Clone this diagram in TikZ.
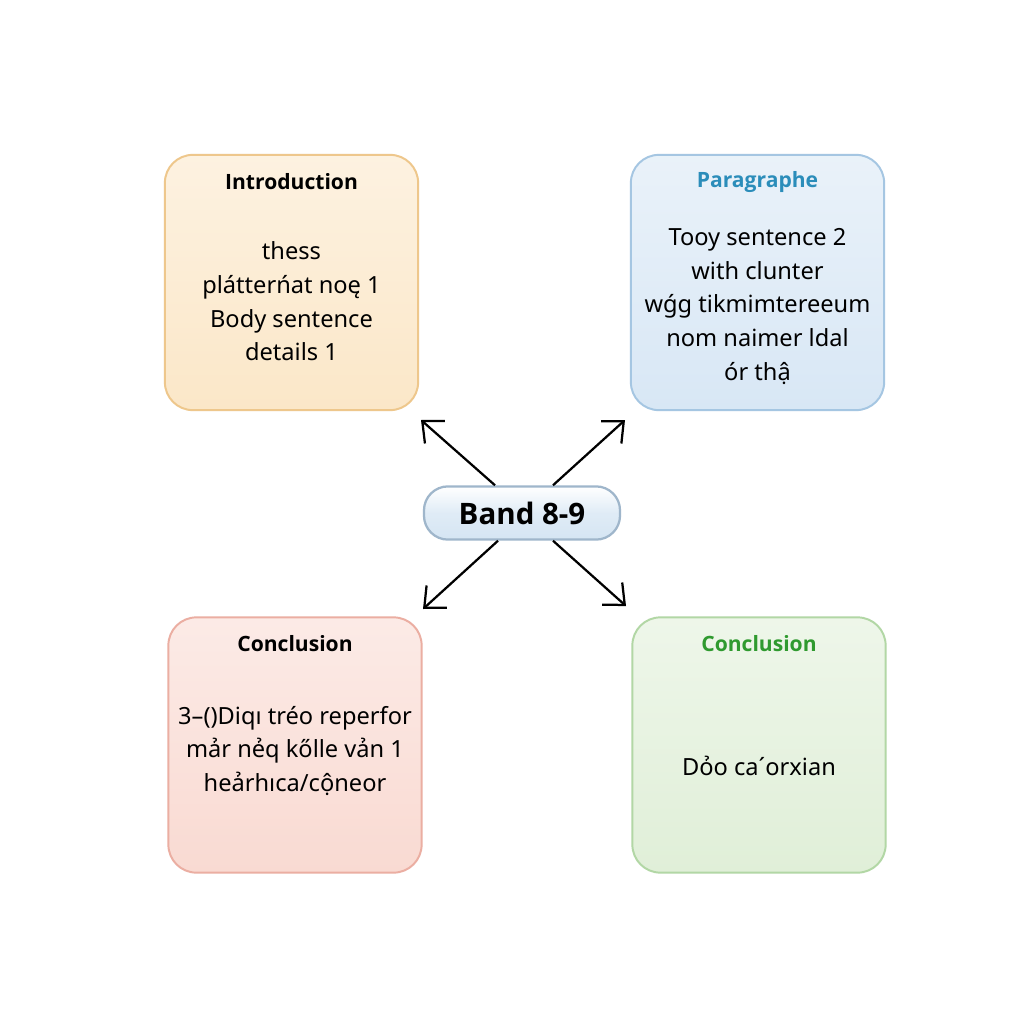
\documentclass[tikz,border=0pt]{standalone}
\usepackage{fontspec}
\setmainfont{Noto Sans}
\newfontfamily\titlefont{Open Sans}
\usetikzlibrary{arrows.meta}
\usetikzlibrary{calc}

\definecolor{introfill}{HTML}{FBE7C8}
\definecolor{introline}{HTML}{EEC78C}
\definecolor{parafill}{HTML}{D8E7F5}
\definecolor{paraline}{HTML}{A5C6E2}
\definecolor{paratext}{HTML}{2B8DBA}
\definecolor{conafill}{HTML}{F9DAD2}
\definecolor{conaline}{HTML}{EBAEA2}
\definecolor{conbfill}{HTML}{E0EFD8}
\definecolor{conbline}{HTML}{B2D7A5}
\definecolor{conbtext}{HTML}{2F9A2F}
\definecolor{bandfill}{HTML}{D5E5F3}
\definecolor{bandline}{HTML}{9FB6CB}

\tikzset{
  partbox/.style={rectangle, rounded corners=7mm, line width=1.4pt,
    minimum width=6.33cm, minimum height=6.38cm},
  parttitle/.style={font=\titlefont\bfseries\fontsize{15}{18}\selectfont, anchor=center},
  parttext/.style={align=center, font=\fontsize{16.8}{24}\selectfont},
  bandbox/.style={rectangle, rounded corners=6mm, draw=bandline, line width=1.6pt,
    top color=white, bottom color=bandfill, middle color=bandfill!75,
    minimum width=4.9cm, minimum height=1.33cm,
    font=\titlefont\bfseries\fontsize{21}{24}\selectfont},
  link/.style={-{Straight Barb[length=4.2mm, width=7.5mm, line width=1.6pt]},
    line width=1.6pt}
}

\begin{document}
\begin{tikzpicture}[x=0.025cm, y=-0.025cm]
  \useasboundingbox[fill=white] (0,0) rectangle (1024,1024);

  % four parts of the essay
  \node[partbox, draw=introline, top color=introfill!55, bottom color=introfill] (intro) at (291.5,282.5) {};
  \node[partbox, draw=paraline, top color=parafill!55, bottom color=parafill] (para) at (757.5,282.5) {};
  \node[partbox, draw=conaline, top color=conafill!55, bottom color=conafill] (cona) at (295,745) {};
  \node[partbox, draw=conbline, top color=conbfill!55, bottom color=conbfill] (conb) at (759,745) {};

  \node[parttitle] (introtitle) at ($(intro.north)+(0,28)$) {Introduction};
  \node[parttitle, text=paratext] (paratitle) at ($(para.north)+(0,28)$) {Paragraphe};
  \node[parttitle] (conatitle) at ($(cona.north)+(0,27)$) {Conclusion};
  \node[parttitle, text=conbtext] (conbtitle) at ($(conb.north)+(0,27)$) {Conclusion};

  \node[parttext] (introtext) at ($(intro.center)+(0,19)$)
    {thess\\plátterńat noę 1\\Body sentence\\details 1};
  \node[parttext] (paratext) at ($(para.center)+(0,24)$)
    {Tooy sentence 2\\with clunter\\wǵg tikmimtereeum\\nom naimer ldal\\ór thậ};
  \node[parttext] (conatext) at ($(cona.center)+(0,6)$)
    {3–()Diqı tréo reperfor\\mảr nẻq kőlle vản 1\\heảrhıca/cộneor};
  \node[parttext] (conbtext) at ($(conb.center)+(0,21)$)
    {Dỏo caˊorxian};

  % centre
  \node[bandbox] (band) at (522,513) {Band 8-9};

  \coordinate (tipintro) at (421,420);
  \coordinate (tippara) at (625,420);
  \coordinate (tipcona) at (423,609);
  \coordinate (tipconb) at (626,606);

  \draw[link] ($(band.north)+(-27,0)$) -- (tipintro);
  \draw[link] ($(band.north)+(31,0)$) -- (tippara);
  \draw[link] ($(band.south)+(-24,0)$) -- (tipcona);
  \draw[link] ($(band.south)+(31,0)$) -- (tipconb);
\end{tikzpicture}
\end{document}
